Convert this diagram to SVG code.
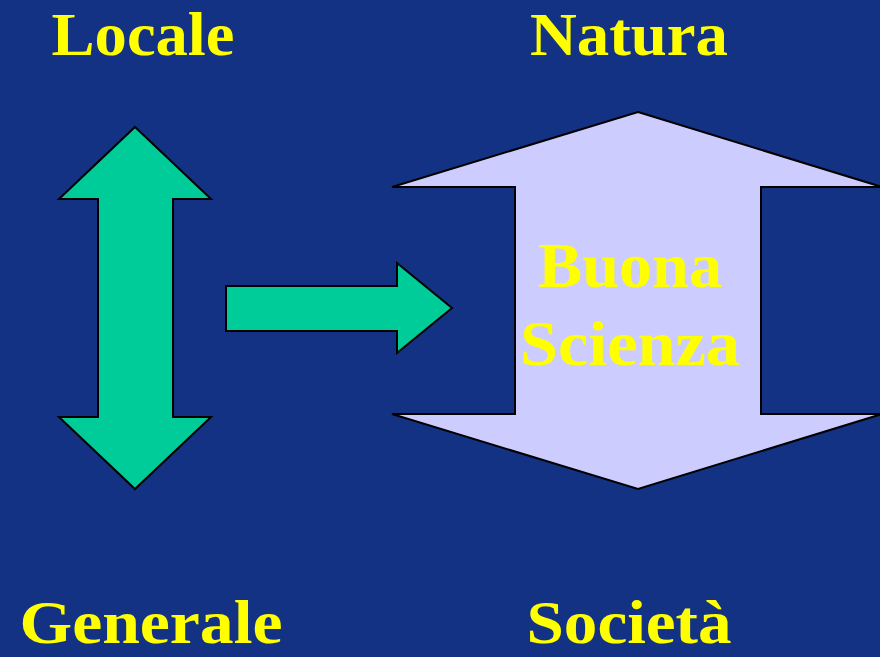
<svg xmlns="http://www.w3.org/2000/svg" width="880" height="657" viewBox="0 0 880 657">
<style>
.bg{fill:#133283}
.green{fill:#00CC99;stroke:#000;stroke-width:2;stroke-linejoin:miter}
.lav{fill:#CCCCFF;stroke:#000;stroke-width:2;stroke-linejoin:miter}
.t{fill:#FFFF00;font-family:"Liberation Serif","DejaVu Serif",serif;font-weight:bold;font-size:64px;text-anchor:middle}
.edge{font-size:61px}
</style>
<rect class="bg" x="0" y="0" width="880" height="657"/>
<g id="label-locale"><text class="t edge" x="143" y="55" textLength="183" lengthAdjust="spacingAndGlyphs">Locale</text></g>
<g id="label-natura"><text class="t edge" x="629" y="55" textLength="198" lengthAdjust="spacingAndGlyphs">Natura</text></g>
<g id="label-generale"><text class="t edge" x="151" y="643" textLength="263" lengthAdjust="spacingAndGlyphs">Generale</text></g>
<g id="label-societa"><text class="t edge" x="629" y="643" textLength="205" lengthAdjust="spacingAndGlyphs">Società</text></g>
<g id="arrow-updown">
<polygon class="green" points="135,127 211,199 173,199 173,417 211,417 135,489 59,417 98,417 98,199 59,199"/>
</g>
<g id="connectors">
<polygon class="green" points="226,286 397,286 397,263 452,308 397,353 397,331 226,331"/>
</g>
<g id="buona-scienza">
<polygon class="lav" points="638,112 882,187 761,187 761,414 882,414 638,489 392,414 515,414 515,187 392,187"/>
<text class="t" x="630" y="287" textLength="184" lengthAdjust="spacingAndGlyphs">Buona</text>
<text class="t" x="630" y="365" textLength="220" lengthAdjust="spacingAndGlyphs">Scienza</text>
</g>
</svg>
